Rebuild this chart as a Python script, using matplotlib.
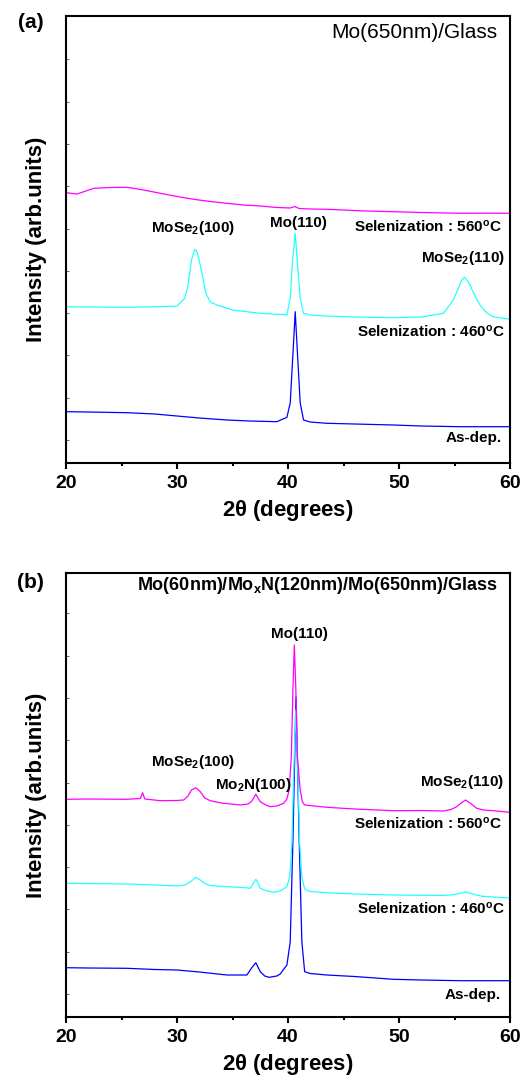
import matplotlib
matplotlib.use("Agg")
import matplotlib.pyplot as plt
from matplotlib.ticker import MultipleLocator, FixedLocator

plt.rcParams['font.family'] = ['Liberation Sans', 'DejaVu Sans']
plt.rcParams['mathtext.fontset'] = 'custom'
plt.rcParams['mathtext.rm'] = 'Liberation Sans'
plt.rcParams['mathtext.bf'] = 'Liberation Sans:bold'
plt.rcParams['mathtext.it'] = 'Liberation Sans:italic'

# ---------------- Panel (a): Mo(650nm)/Glass ----------------
a_560_x = [20, 21, 22.5, 24, 25.5, 27, 28.5, 30, 31.5, 33, 34.5, 36, 37.5, 39, 40.2, 40.6, 41,
           42, 43.5, 45, 47, 49.5, 52, 55.5, 58, 60]
a_560_y = [270.3, 269, 274.7, 275.5, 275.7, 273, 269.7, 266.5, 263.7, 261.5, 259.7, 258, 257, 255.5,
           255, 256.5, 254.5, 254, 253.7, 253, 252, 251.3, 250.5, 249.7, 249.8, 249.7]

a_460_x = [20, 22, 25.5, 28, 30, 30.7, 31, 31.3, 31.6, 31.8, 32.0, 32.2, 32.6, 33, 33.6, 35, 37.5,
           39.5, 39.9, 40.2, 40.4, 40.65, 40.9, 41.1, 41.4, 42, 43.5, 46, 49.5, 52, 54, 54.9, 55.4,
           55.65, 55.9, 56.2, 56.4, 56.8, 57.3, 57.9, 58.5, 60]
a_460_y = [156.3, 156, 155.7, 156.2, 157, 164.7, 178, 203, 213.7, 211.3, 202, 193, 169.7, 161, 158,
           153, 149.7, 148.5, 148, 165, 200, 229.7, 193, 165, 149.7, 148, 147, 146, 145.3, 146,
           149.7, 163, 176, 183, 185.7, 182, 178, 168, 158, 150, 146.3, 143.7]

a_dep_x = [20, 22, 25.5, 28, 30, 32, 34.5, 36.5, 39, 39.9, 40.2, 40.45, 40.65, 40.85, 41.1, 41.4,
           42, 43.5, 46, 49.5, 52, 55.5, 60]
a_dep_y = [51.3, 51, 50.3, 49, 47, 45, 43, 42, 41.3, 45.7, 60, 110, 151.3, 110, 60, 43, 41, 39.7,
           39, 38, 37, 36.3, 36.3]

# ---------------- Panel (b): Mo/MoxN/Mo/Glass ----------------
b_560_x = [20, 22, 25.5, 26.7, 26.9, 27.1, 28.5, 30, 30.6, 31, 31.3, 31.7, 32.1, 32.5, 33, 34, 35.7,
           36.4, 36.7, 37.1, 37.5, 38, 38.4, 39, 39.6, 39.9, 40.1, 40.3, 40.45, 40.57, 40.7, 40.85,
           41.1, 41.3, 41.5, 43.5, 46, 49.5, 52, 54, 54.7, 55.2, 55.6, 56, 56.4, 57, 57.6, 58.5, 60]
b_560_y = [217.7, 218, 217.7, 218.5, 224.3, 218, 216.3, 216.5, 217, 221, 227, 229.3, 225.3, 219,
           216.3, 214, 212, 213, 215.3, 222.7, 215.3, 212, 210.3, 211, 213.7, 218, 227, 260, 330,
           372, 330, 260, 227, 215, 212, 209.7, 208, 206.3, 206.5, 206, 207.5, 210.3, 214, 217,
           214, 208.7, 207, 206.3, 204.7]

b_460_x = [20, 22, 25.5, 28, 30, 30.7, 31.2, 31.7, 32.1, 32.5, 33, 34.5, 36, 36.6, 36.9, 37.1, 37.3,
           37.5, 38, 38.7, 39.4, 39.9, 40.15, 40.35, 40.5, 40.7, 40.9, 41.05, 41.25, 41.5, 42, 43.5,
           46, 49.5, 52, 54, 55, 56, 56.8, 57.5, 60]
b_460_y = [133.7, 133.5, 133, 132, 131, 132, 135, 139.7, 137, 133.5, 131.5, 130.3, 129.5, 128.7,
           134, 137.7, 134, 128.7, 126.5, 124.7, 126.5, 130.3, 140, 174, 240, 307, 240, 174, 140,
           128, 125.5, 124.3, 123, 122, 121.7, 121.5, 122.5, 125, 122.5, 120.7, 119]

b_dep_x = [20, 22, 25.5, 28, 30, 32, 34.5, 36.3, 36.7, 37.1, 37.5, 37.9, 38.3, 39, 39.3, 39.9, 40.2,
           40.45, 40.72, 41.0, 41.25, 41.5, 42, 43.5, 46, 49.5, 52, 55.5, 60]
b_dep_y = [49.3, 49, 48.7, 47.5, 47, 45, 42, 42, 48.7, 54.3, 45.3, 41, 39.7, 41, 43, 52, 75, 180,
           320, 180, 75, 45.3, 43.5, 42, 40.5, 37.7, 37, 36.3, 36.3]

x_major = [20, 30, 40, 50, 60]
y_minor_ticks = [23, 65.3, 107.6, 149.9, 192.2, 234.5, 276.8, 319.1, 361.4, 403.7]

C_560 = '#FF00FF'
C_460 = '#22FFFF'
C_DEP = '#0000FF'

W, H = 527, 1089
fig = plt.figure(figsize=(W / 100, H / 100), dpi=100)

def ax_rect(left, top, right, bottom):
    return [left / W, 1 - bottom / H, (right - left) / W, (bottom - top) / H]

ax_a = fig.add_axes(ax_rect(66, 16, 510, 463))
ax_b = fig.add_axes(ax_rect(66, 573, 510, 1017))

def style(ax, ytop):
    ax.set_xlim(20, 60)
    ax.set_ylim(0, ytop)
    for s in ax.spines.values():
        s.set_linewidth(1.5)
    ax.xaxis.set_major_locator(FixedLocator(x_major))
    ax.xaxis.set_minor_locator(MultipleLocator(5))
    ax.tick_params(axis='x', which='major', direction='out', length=4, width=1.5,
                   labelsize=14, pad=5)
    ax.tick_params(axis='x', which='minor', direction='out', length=2.5, width=1.5)
    ax.yaxis.set_major_locator(FixedLocator(y_minor_ticks))
    ax.tick_params(axis='y', which='major', direction='in', length=2, width=0.6,
                   labelleft=False, color='#555555')
    for lab in ax.get_xticklabels():
        lab.set_fontweight('bold')
    ax.set_xlabel(r'2$\mathbf{\theta}$ (degrees)', fontsize=16, fontweight='bold', labelpad=4)
    ax.set_ylabel('Intensity (arb.units)', fontsize=16, fontweight='bold', labelpad=14)

lw = 0.9
# Panel (a)
ax_a.plot(a_dep_x, a_dep_y, color=C_DEP, lw=lw)
ax_a.plot(a_460_x, a_460_y, color=C_460, lw=lw)
ax_a.plot(a_560_x, a_560_y, color=C_560, lw=lw)
style(ax_a, 447)

lab_kw = dict(fontsize=11, fontweight='bold', va='center')
ax_a.text(58.83, 430, 'Mo(650nm)/Glass', fontsize=15, ha='right', va='center')
ax_a.text(31.44, 235, r'MoSe$_\mathbf{2}$(100)', ha='center', **lab_kw)
ax_a.text(40.9, 240, 'Mo(110)', ha='center', **lab_kw)
ax_a.text(59.28, 236, r'Selenization : 560$^\mathbf{o}$C', ha='right', **lab_kw)
ax_a.text(55.77, 205, r'MoSe$_\mathbf{2}$(110)', ha='center', **lab_kw)
ax_a.text(59.55, 131.3, r'Selenization : 460$^\mathbf{o}$C', ha='right', **lab_kw)
ax_a.text(59.25, 25, 'As-dep.', ha='right', **lab_kw)

# Panel (b)
ax_b.plot(b_dep_x, b_dep_y, color=C_DEP, lw=lw)
ax_b.plot(b_460_x, b_460_y, color=C_460, lw=lw)
ax_b.plot(b_560_x, b_560_y, color=C_560, lw=lw)
style(ax_b, 444)

ax_b.text(58.92, 432, r'Mo(60nm)/Mo$_\mathbf{x}$N(120nm)/Mo(650nm)/Glass', fontsize=13,
          fontweight='bold', ha='right', va='center')
ax_b.text(40.99, 383, 'Mo(110)', ha='center', **lab_kw)
ax_b.text(31.44, 255, r'MoSe$_\mathbf{2}$(100)', ha='center', **lab_kw)
ax_b.text(36.85, 232, r'Mo$_\mathbf{2}$N(100)', ha='center', **lab_kw)
ax_b.text(55.72, 235.3, r'MoSe$_\mathbf{2}$(110)', ha='center', **lab_kw)
ax_b.text(59.25, 193.7, r'Selenization : 560$^\mathbf{o}$C', ha='right', **lab_kw)
ax_b.text(59.55, 108.7, r'Selenization : 460$^\mathbf{o}$C', ha='right', **lab_kw)
ax_b.text(59.2, 22, 'As-dep.', ha='right', **lab_kw)

fig.text(31 / W, 1 - 22 / H, '(a)', fontsize=15, fontweight='bold', ha='center', va='center')
fig.text(30 / W, 1 - 583 / H, '(b)', fontsize=15, fontweight='bold', ha='center', va='center')

fig.savefig('out.png', dpi=100)
